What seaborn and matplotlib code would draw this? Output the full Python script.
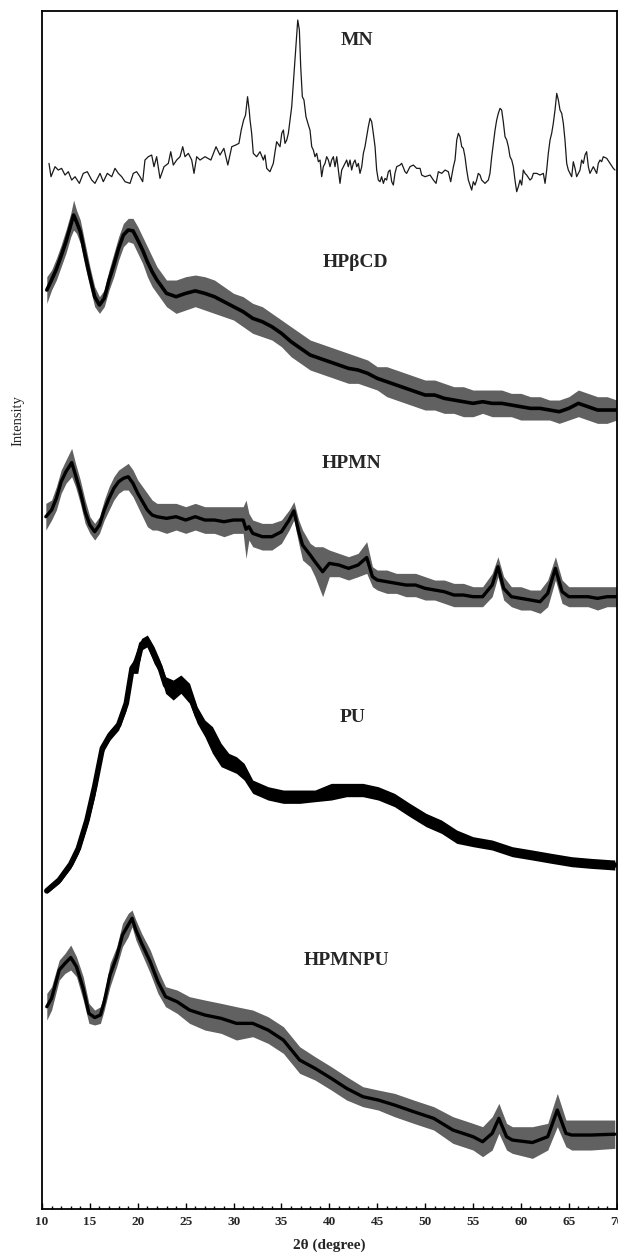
import pandas as pd
import matplotlib.pyplot as plt
import seaborn as sns
from matplotlib.ticker import MultipleLocator

# MN (crystalline drug): thin trace, values read point by point
mn_angle = [10.73, 10.94, 11.36, 11.70, 12.05, 12.40, 12.75, 13.10, 13.45, 13.90,
            14.31, 14.73, 15.19, 15.53, 16.06, 16.40, 16.82, 17.28, 17.62, 17.97,
            18.32, 18.67, 19.19, 19.53, 19.88, 20.23, 20.51, 20.75, 21.10, 21.45,
            21.69, 21.97, 22.32, 22.74, 23.19, 23.44, 23.71, 24.06, 24.41, 24.69,
            24.93, 25.28, 25.63, 25.87, 26.15, 26.50, 27.02, 27.63, 28.17, 28.58,
            28.99, 29.40, 29.81, 30.22, 30.56, 30.80, 31.05, 31.25, 31.46, 31.63,
            31.72, 31.89, 32.06, 32.41, 32.76, 33.11, 33.28, 33.46, 33.80, 34.15,
            34.33, 34.50, 34.85, 35.03, 35.20, 35.37, 35.55, 35.72, 35.89, 36.07,
            36.24, 36.42, 36.59, 36.70, 36.87, 37.01, 37.18, 37.35, 37.56, 37.81,
            37.98, 38.16, 38.33, 38.50, 38.68, 38.85, 39.03, 39.20, 39.37, 39.55,
            39.72, 39.90, 40.07, 40.24, 40.42, 40.59, 40.77, 40.94, 41.11, 41.29,
            41.46, 41.64, 41.81, 41.98, 42.16, 42.33, 42.50, 42.68, 42.86, 43.03,
            43.20, 43.38, 43.55, 43.72, 43.90, 44.07, 44.25, 44.42, 44.59, 44.77,
            44.94, 45.11, 45.29, 45.46, 45.64, 45.81, 45.98, 46.16, 46.33, 46.51,
            46.68, 46.85, 47.03, 47.38, 47.55, 47.90, 48.07, 48.42, 48.77, 49.12,
            49.47, 49.64, 49.99, 50.51, 50.86, 51.14, 51.38, 51.73, 52.08, 52.42,
            52.67, 52.95, 53.12, 53.30, 53.47, 53.64, 53.82, 53.99, 54.16, 54.34,
            54.51, 54.69, 54.86, 55.03, 55.21, 55.38, 55.55, 55.73, 55.90, 56.25,
            56.60, 56.77, 56.95, 57.12, 57.30, 57.47, 57.64, 57.82, 57.99, 58.16,
            58.34, 58.52, 58.69, 58.86, 59.04, 59.21, 59.38, 59.56, 59.73, 59.91,
            60.08, 60.25, 60.43, 60.60, 60.95, 61.13, 61.30, 61.65, 61.99, 62.34,
            62.52, 62.69, 62.86, 63.04, 63.21, 63.38, 63.56, 63.74, 63.91, 64.08,
            64.26, 64.43, 64.60, 64.78, 64.95, 65.13, 65.30, 65.47, 65.65, 65.82,
            65.99, 66.17, 66.34, 66.52, 66.69, 66.86, 67.04, 67.21, 67.39, 67.56,
            67.91, 68.08, 68.26, 68.43, 68.60, 68.96, 69.30, 69.65, 69.82]
mn_counts = [110, 70, 100, 90, 95, 75, 85, 60, 70, 50,
             80, 85, 60, 50, 80, 55, 80, 70, 95, 80,
             70, 55, 50, 80, 85, 70, 55, 120, 130, 135,
             100, 130, 65, 100, 110, 145, 105, 120, 130, 160,
             130, 140, 120, 80, 130, 120, 130, 120, 160, 135,
             155, 105, 160, 165, 170, 210, 240, 255, 310, 270,
             240, 200, 140, 130, 145, 120, 135, 95, 85, 110,
             145, 175, 160, 200, 210, 170, 180, 200, 240, 280,
             350, 420, 490, 540, 510, 400, 310, 300, 250, 225,
             210, 160, 150, 130, 140, 115, 120, 70, 100, 110,
             130, 120, 100, 120, 130, 100, 130, 90, 50, 90,
             100, 110, 120, 100, 120, 90, 110, 120, 100, 110,
             80, 100, 140, 160, 190, 220, 245, 235, 200, 160,
             90, 60, 55, 70, 50, 65, 60, 85, 90, 55,
             45, 80, 100, 105, 110, 85, 80, 100, 105, 95,
             95, 75, 70, 75, 60, 50, 85, 80, 90, 85,
             55, 100, 120, 180, 200, 190, 160, 155, 130, 90,
             60, 45, 30, 55, 45, 60, 80, 75, 60, 50,
             60, 80, 130, 170, 210, 240, 260, 275, 270, 235,
             190, 180, 160, 130, 120, 100, 60, 25, 40, 60,
             45, 90, 80, 75, 60, 65, 80, 80, 75, 80,
             50, 90, 140, 180, 200, 230, 270, 320, 300, 270,
             260, 230, 180, 110, 90, 80, 70, 115, 95, 70,
             80, 90, 120, 110, 135, 145, 100, 80, 90, 100,
             80, 110, 120, 115, 130, 125, 110, 95, 90]

# the other samples are dense noise bands: upper and lower edge of the band
hpbcd_angle = [10.5, 11, 11.5, 12, 12.5, 13, 13.3, 13.6, 14, 14.5, 15, 15.5, 16, 16.5,
               17, 17.5, 18, 18.5, 19, 19.5, 20, 20.5, 21, 21.5, 22, 22.5, 23, 24, 25,
               26, 27, 28, 29, 30, 31, 32, 33, 34, 35, 36, 37, 38, 39, 40, 41, 42, 43,
               44, 45, 46, 47, 48, 49, 50, 51, 52, 53, 54, 55, 56, 57, 58, 59, 60, 61,
               62, 63, 64, 65, 66, 67, 68, 69, 70]
hpbcd_hi = [460, 480, 515, 555, 600, 650, 690, 660, 630, 560, 490, 430, 400, 420,
            480, 530, 580, 620, 635, 635, 610, 580, 550, 520, 490, 470, 450, 450, 460,
            465, 460, 450, 430, 410, 400, 380, 370, 350, 330, 310, 290, 270, 260, 250,
            240, 230, 220, 210, 190, 190, 180, 170, 160, 150, 150, 140, 130, 130, 120,
            120, 120, 120, 110, 110, 100, 100, 90, 90, 100, 120, 110, 100, 100, 90]
hpbcd_lo = [380, 420, 450, 490, 530, 580, 600, 590, 560, 490, 430, 370, 350, 370,
            420, 460, 510, 550, 565, 560, 530, 500, 460, 430, 410, 390, 370, 350, 360,
            370, 360, 350, 340, 330, 310, 290, 280, 270, 250, 220, 200, 180, 170, 160,
            150, 140, 140, 130, 120, 100, 90, 80, 70, 60, 60, 50, 50, 40, 40,
            50, 40, 40, 40, 30, 30, 30, 30, 20, 30, 40, 30, 20, 20, 30]

hpmn_angle = [10.4, 11, 11.5, 12, 12.5, 13.1, 13.5, 14, 14.5, 15, 15.5, 16, 16.5, 17,
              17.5, 18, 18.5, 19, 19.5, 20, 20.5, 21, 21.5, 22, 23, 24, 25, 26, 27,
              28, 29, 30, 31, 31.3, 31.6, 32, 33, 34, 35, 35.8, 36.3, 36.8, 37.2, 38,
              38.5, 39.3, 40, 41, 42, 43, 43.9, 44.5, 45, 46, 47, 48, 49, 50, 51, 52,
              53, 54, 55, 56, 57, 57.6, 58.2, 59, 60, 61, 62, 62.8, 63.6, 64.3, 65,
              66, 67, 68, 69, 70]
hpmn_hi = [410, 420, 460, 510, 540, 575, 530, 480, 420, 370, 350, 370, 420, 460,
           490, 510, 520, 530, 510, 480, 460, 440, 420, 410, 410, 410, 400, 410, 400,
           400, 400, 400, 400, 420, 380, 360, 350, 350, 360, 390, 415, 360, 330, 290,
           280, 280, 270, 260, 250, 260, 295, 220, 210, 210, 200, 200, 200, 190, 180, 180,
           170, 170, 160, 160, 200, 250, 190, 160, 160, 150, 150, 180, 250, 180, 160,
           160, 160, 160, 160, 160]
hpmn_lo = [330, 360, 390, 440, 470, 490, 460, 410, 350, 320, 300, 320, 360, 390,
           420, 440, 450, 450, 430, 400, 370, 340, 330, 330, 320, 330, 320, 330, 320,
           320, 310, 320, 320, 245, 300, 280, 270, 270, 290, 330, 360, 290, 240, 220,
           190, 130, 190, 190, 180, 190, 200, 160, 150, 140, 140, 130, 130, 120, 120, 110,
           100, 100, 100, 100, 130, 190, 120, 100, 90, 90, 80, 100, 180, 110, 100,
           100, 100, 90, 100, 100]

pu_angle = [10.5, 11.8, 13.0, 13.8, 14.7, 15.5, 16.3, 17.1, 18.0, 18.8, 19.4, 20.0,
            20.4, 21.0, 21.7, 22.3, 22.9, 23.7, 24.5, 25.4, 26.2, 27.0, 27.8, 28.7,
            29.5, 30.3, 31.1, 32.0, 33.6, 35.2, 36.9, 38.5, 40.2, 41.8, 43.5, 45.1,
            46.8, 48.4, 50.1, 51.7, 53.3, 55.0, 57.0, 59.1, 61.2, 63.2, 65.3, 67.3, 69.8]
pu_hi = [35, 70, 120, 170, 260, 370, 470, 510, 540, 610, 710, 760,
         785, 795, 760, 720, 670, 660, 675, 650, 580, 540, 520, 470,
         440, 430, 410, 360, 340, 330, 330, 330, 350, 350, 350, 340,
         320, 290, 260, 240, 210, 190, 180, 160, 150, 140, 130, 125, 120]
pu_lo = [20, 50, 95, 140, 220, 310, 440, 480, 510, 570, 680, 680,
         750, 760, 710, 680, 620, 600, 620, 590, 530, 490, 440, 400,
         390, 380, 360, 320, 300, 290, 290, 295, 300, 310, 310, 300,
         280, 250, 220, 200, 170, 160, 150, 130, 120, 110, 100, 95, 90]

hpmnpu_angle = [10.5, 11.0, 11.8, 12.4, 13.0, 13.6, 14.3, 14.9, 15.5, 16.1, 16.5, 17.1,
                17.8, 18.4, 19.0, 19.4, 19.8, 20.4, 21.3, 22.1, 22.9, 24.1, 25.4, 27.0,
                28.7, 30.3, 32.0, 33.6, 35.2, 36.9, 38.5, 40.2, 41.8, 43.5, 45.1, 46.8,
                48.8, 50.9, 52.9, 55.0, 56.0, 57.0, 57.7, 58.5, 59.1, 61.2, 62.8, 63.8,
                64.7, 65.3, 67.3, 69.8]
hpmnpu_hi = [560, 580, 660, 680, 705, 670, 610, 530, 510, 520, 560, 650,
             700, 770, 800, 810, 780, 740, 690, 630, 580, 570, 550, 540,
             530, 520, 510, 490, 460, 400, 370, 340, 310, 280, 270, 260,
             240, 220, 190, 170, 160, 190, 230, 170, 160, 160, 170, 260,
             180, 180, 180, 180]
hpmnpu_lo = [480, 510, 600, 620, 630, 610, 540, 470, 465, 470, 510, 580,
             640, 700, 730, 760, 720, 680, 620, 560, 520, 500, 470, 450,
             440, 420, 430, 410, 380, 320, 300, 270, 240, 220, 210, 190,
             170, 150, 110, 90, 70, 90, 140, 90, 80, 65, 90, 160,
             100, 90, 90, 95]

labels = ['MN', 'HPβCD', 'HPMN', 'PU', 'HPMNPU']
offsets = [3026, 2336, 1706, 926, 86]
label_angle = [42.9, 42.7, 42.3, 42.4, 41.8]
label_height = [3506, 2840, 2237, 1475, 746]

sns.set_style('white')
plt.rcParams['font.family'] = ['Liberation Serif', 'DejaVu Serif']

fig = plt.figure(figsize=(6.18, 12.52), dpi=100)
ax = fig.add_axes([42 / 618, 1 - 1208.7 / 1252, 574.7 / 618, 1198 / 1252])

sns.lineplot(x=mn_angle, y=[v + offsets[0] for v in mn_counts], color='#1a1a1a',
             lw=0.9, errorbar=None, ax=ax)

# (angle, upper edge, lower edge, offset, band alpha, core line width)
bands = [(hpbcd_angle, hpbcd_hi, hpbcd_lo, offsets[1], 0.62, 2.6),
         (hpmn_angle, hpmn_hi, hpmn_lo, offsets[2], 0.62, 2.4),
         (pu_angle, pu_hi, pu_lo, offsets[3], 1.0, 4.0),
         (hpmnpu_angle, hpmnpu_hi, hpmnpu_lo, offsets[4], 0.62, 2.4)]

for ang, hi, lo, off, alpha, core in bands:
    df = pd.DataFrame({'angle': ang + ang,
                       'counts': [v + off for v in hi + lo]})
    sns.lineplot(data=df, x='angle', y='counts', estimator='mean',
                 errorbar=('pi', 100), color='k', lw=core,
                 err_kws={'alpha': alpha, 'lw': 0}, ax=ax)

for name, xa, ya in zip(labels, label_angle, label_height):
    ax.text(xa, ya, name, ha='center', va='center', fontsize=14, fontweight='bold')

ax.set_xlim(10, 70)
ax.set_ylim(0, 3594)
ax.set_xticks(range(10, 71, 5))
ax.xaxis.set_minor_locator(MultipleLocator(1))
ax.set_yticks([])
ax.tick_params(axis='x', which='both', direction='in', bottom=True, top=False,
               width=1, color='k', labelsize=9.5, pad=5)
ax.tick_params(axis='x', which='major', length=4)
ax.tick_params(axis='x', which='minor', length=2.5)
for lab in ax.get_xticklabels():
    lab.set_fontweight('bold')
for sp in ax.spines.values():
    sp.set_color('k')
    sp.set_linewidth(1.3)

ax.set_xlabel('2θ (degree)', fontsize=11, fontweight='bold', va='center')
ax.xaxis.set_label_coords(0.5, -0.0303)
ax.set_ylabel('Intensity', fontsize=10.5, va='center')
ax.yaxis.set_label_coords(-0.0418, 0.658)

fig.savefig('out.png', dpi=100)
